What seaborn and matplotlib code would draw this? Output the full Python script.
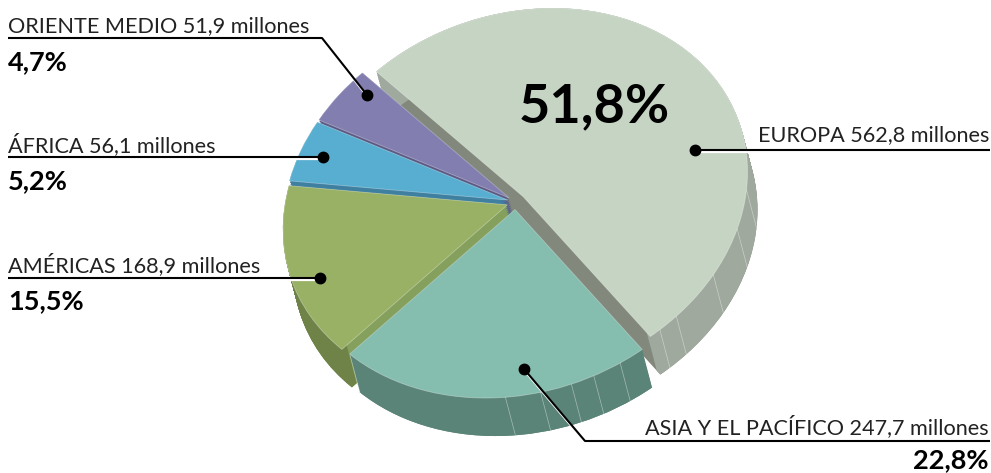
import numpy as np
import seaborn as sns
import matplotlib.pyplot as plt
from matplotlib.transforms import Affine2D

sns.set_theme(style="white")
plt.rcParams['font.family'] = ['Lato', 'DejaVu Sans']

########## Data

regions   = ["EUROPA", "ASIA Y EL PACÍFICO", "AMÉRICAS", "ÁFRICA", "ORIENTE MEDIO"]
millones  = [562.8, 247.7, 168.9, 56.1, 51.9]
shares    = [51.8, 22.8, 15.5, 5.2, 4.7]

top_colors  = sns.color_palette(["#c6d5c3", "#85bdae", "#98b165", "#57aed0", "#827fb0"])
cut_colors  = sns.color_palette(["#82897c", "#5a8176", "#85a05c", "#3f7f9f", "#5c5a85"])
wall_colors = sns.color_palette(["#9fa99d", "#5b8478", "#6f8349", "#3f7f9f", "#5c5a85"])

# seams on the outer wall, degrees
seams = {0: [-49, -43.5, -28.6, -14, -2], 1: [-89, -80, -72, -66, -58.6], 2: [-131]}

########## Pie geometry (tilted disc, in pixels)

center    = np.array([516.0, 202.0])
tilt      = np.array([[224.0, 13.5], [-13.5, -188.0]])
depth     = np.array([10.0, 38.0])
explode   = 0.04
start     = 134.3

fractions = np.array(millones) / sum(millones)
edges     = start - 360 * np.concatenate([[0], np.cumsum(fractions)])
middles   = np.radians((edges[:-1] + edges[1:]) / 2)


def apex(i):
    return center + tilt @ np.array([np.cos(middles[i]), np.sin(middles[i])]) * explode


def draw_wedge(ax, i, color, shift=0.0, width=None, edge="none", lw=0):
    colors = ["none"] * len(millones)
    colors[i] = color
    props = {"linewidth": 0}
    if width is not None:
        props["width"] = width
    wedges, _ = ax.pie(millones, colors=colors, startangle=start, counterclock=False,
                       radius=1, wedgeprops=props)
    p = apex(i) + depth * shift
    matrix = Affine2D(np.array([[tilt[0, 0], tilt[0, 1], p[0]],
                                [tilt[1, 0], tilt[1, 1], p[1]],
                                [0, 0, 1]]))
    for k, w in enumerate(wedges):
        if k != i:
            w.remove()
        else:
            w.set_transform(matrix + ax.transData)
            w.set_edgecolor(edge)
            w.set_linewidth(lw)


########## Plotting

fig = plt.figure(figsize=(9.91, 4.73), dpi=100)
ax = fig.add_axes([0, 0, 1, 1])

layers = 20
for i in [0, 4, 3, 2, 1]:
    for s in np.linspace(1, 0, layers):
        draw_wedge(ax, i, cut_colors[i], shift=s)
    if i < 3:
        for s in np.linspace(1, 0, layers * 2):
            draw_wedge(ax, i, wall_colors[i], shift=s, width=0.03)
    for angle in seams.get(i, []):
        a = np.radians(angle)
        p = apex(i) + tilt @ np.array([np.cos(a), np.sin(a)])
        ax.plot([p[0], p[0] + depth[0]], [p[1], p[1] + depth[1]],
                color="white", lw=0.5, alpha=0.45, zorder=3)
    draw_wedge(ax, i, top_colors[i], edge=(1, 1, 1, 0.35), lw=0.6)

ax.set_aspect("auto")
ax.set_xlim(0, 991)
ax.set_ylim(473, 0)
ax.axis("off")

########## Labels

LABEL_SIZE = 15.6


def leader(xs, ys):
    ax.plot(np.array(xs) + 0.4, np.array(ys) + 1.6, color="white", lw=1.6, zorder=5,
            solid_capstyle="butt")
    ax.plot(xs, ys, color="black", lw=1.5, zorder=6, solid_capstyle="butt")
    ax.plot(xs[-1], ys[-1], "o", color="black", ms=7.5, zorder=7)


def label(i, x, y, ha="left"):
    txt = f"{regions[i]} {str(millones[i]).replace('.', ',')} millones"
    ax.text(x, y, txt, fontsize=LABEL_SIZE, color="#222222", ha=ha, va="baseline", zorder=8)


def share(i, x, y, ha="left"):
    ax.text(x, y, f"{str(shares[i]).replace('.', ',')}%", fontsize=19.5, fontweight="bold",
            color="black", ha=ha, va="baseline", zorder=8)


leader([8, 322, 367], [38, 38, 95])
label(4, 8, 32)
share(4, 8, 70)

leader([8, 323], [157, 157])
label(3, 8, 152)
share(3, 8, 189)

leader([8, 320], [278, 278])
label(2, 8, 272)
share(2, 8, 309)

leader([990, 695], [150, 150])
label(0, 989, 141, ha="right")

leader([990, 585, 524], [441, 441, 369])
label(1, 989, 434, ha="right")
share(1, 989, 468, ha="right")

ax.text(594, 122, f"{str(shares[0]).replace('.', ',')}%", fontsize=39, fontweight="bold",
        color="black", ha="center", va="baseline", zorder=8)

fig.savefig("out.png", dpi=100)
